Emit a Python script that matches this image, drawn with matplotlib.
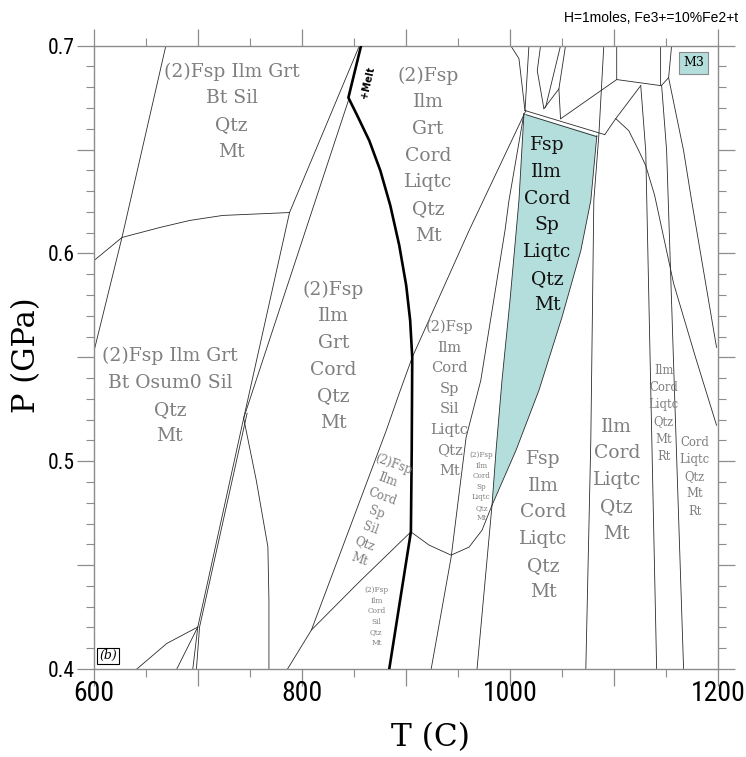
import matplotlib

matplotlib.use("Agg")
import matplotlib.pyplot as plt
from matplotlib.patches import Polygon
from matplotlib.ticker import FuncFormatter, MultipleLocator

# phase boundaries, T in C, P in GPa
melt_T = [856.8, 844.6, 853.2, 864.7, 875.3, 884.9, 893.5, 900.2, 904.0, 906.0, 905.5, 904.7, 883.9]
melt_P = [0.700, 0.675, 0.6663, 0.6543, 0.6399, 0.6231, 0.6039, 0.5846, 0.5678, 0.550, 0.505,
          0.466, 0.400]

a_T = [669.1, 626.9, 600.0]
a_P = [0.700, 0.6077, 0.553]
b_T = [600.0, 626.9, 663.3, 692.1, 723.7, 788.0]
b_P = [0.5966, 0.6077, 0.6125, 0.6159, 0.6183, 0.6197]
c_T = [855.2, 788.0, 743.9]
c_P = [0.700, 0.6197, 0.5207]
d_T = [844.6, 743.9]
d_P = [0.6736, 0.5207]
e1_T = [743.9, 699.8, 695.0]
e1_P = [0.5207, 0.4202, 0.400]
e2_T = [747.2, 701.5, 698.5]
e2_P = [0.5231, 0.4202, 0.400]
f1_T = [699.8, 670.0, 641.2]
f1_P = [0.4202, 0.4123, 0.400]
f2_T = [699.8, 679.6]
f2_P = [0.4202, 0.400]
g_T = [743.9, 756.0, 767.2, 768.2, 768.2]
g_P = [0.5207, 0.4909, 0.4588, 0.4332, 0.400]

l1_T = [1015.3, 960.7, 906.0, 893.5, 881.1, 809.1, 786.1]
l1_P = [0.6688, 0.6111, 0.550, 0.5327, 0.5149, 0.4188, 0.400]
h_T = [904.7, 855.2, 809.1]
h_P = [0.466, 0.442, 0.4188]
i_T = [904.7, 922.3, 943.4, 960.7, 973.1, 982.7]
i_P = [0.466, 0.4596, 0.4548, 0.4587, 0.4668, 0.4788]
l2_T = [1013.4, 999.0, 995.2, 971.9, 957.8, 943.4, 924.2]
l2_P = [0.6673, 0.6255, 0.6111, 0.5389, 0.5115, 0.4538, 0.400]

teal_left_T = [1013.4, 1008.6, 1000.0, 992.3, 986.6, 982.7, 968.3]
teal_left_P = [0.6673, 0.6255, 0.5774, 0.5389, 0.5053, 0.4788, 0.400]
teal_right_T = [1083.5, 1077.7, 1068.1, 1049.9, 1027.8, 1005.8, 982.7]
teal_right_P = [0.6567, 0.6255, 0.6014, 0.5692, 0.5341, 0.5053, 0.4788]
band_top_T = [1014.4, 1091.1]
band_top_P = [0.6688, 0.6572]
band_bot_T = [1015.3, 1083.5]
band_bot_P = [0.6668, 0.6562]

ra_T = [1090.2, 1085.4, 1080.6, 1077.7, 1072.9]
ra_P = [0.700, 0.6567, 0.6255, 0.5101, 0.400]
rb_T = [1125.7, 1130.5, 1141.0]
rb_P = [0.6808, 0.6495, 0.400]
rc_T = [1145.8, 1150.6, 1166.9]
rc_P = [0.6808, 0.6495, 0.400]
rd_T = [1152.5, 1166.9, 1174.6, 1198.6]
rd_P = [0.6846, 0.6495, 0.6255, 0.5548]
arc_T = [1101.7, 1114.2, 1123.8, 1130.5, 1139.1, 1157.3, 1178.4, 1198.6]
arc_P = [0.6649, 0.6591, 0.6495, 0.6423, 0.6279, 0.5856, 0.550, 0.5173]

box1_T = [1102.6, 1102.6, 1144.8, 1144.8]
box1_P = [0.700, 0.6837, 0.6808, 0.700]
box2_T = [1155.4, 1152.5, 1145.5]
box2_P = [0.700, 0.6846, 0.6808]
k1_T = [1125.7, 1101.7, 1091.1]
k1_P = [0.6808, 0.6649, 0.6572]
k2_T = [1102.6, 1048.9]
k2_P = [0.6837, 0.6649]

t1_T = [1000.7, 1008.6, 1014.4]
t1_P = [0.700, 0.6938, 0.6688]
t2_T = [1018.2, 1014.4]
t2_P = [0.700, 0.6688]
t3_T = [1029.4, 1026.2, 1032.6]
t3_P = [0.700, 0.688, 0.6697]
t4_T = [1048.6, 1034.2]
t4_P = [0.700, 0.6703]
t5_T = [1053.4, 1047.0, 1048.6]
t5_P = [0.700, 0.6792, 0.6648]
t6_T = [1047.0, 1032.6]
t6_P = [0.6792, 0.6697]

thin_lines = [
    (a_T, a_P), (b_T, b_P), (c_T, c_P), (d_T, d_P), (e1_T, e1_P), (e2_T, e2_P),
    (f1_T, f1_P), (f2_T, f2_P), (g_T, g_P), (l1_T, l1_P), (h_T, h_P), (i_T, i_P),
    (l2_T, l2_P), (teal_left_T, teal_left_P), (teal_right_T, teal_right_P),
    (band_top_T, band_top_P), (band_bot_T, band_bot_P), (ra_T, ra_P), (rb_T, rb_P),
    (rc_T, rc_P), (rd_T, rd_P), (arc_T, arc_P), (box1_T, box1_P), (box2_T, box2_P),
    (k1_T, k1_P), (k2_T, k2_P), (t1_T, t1_P), (t2_T, t2_P), (t3_T, t3_P),
    (t4_T, t4_P), (t5_T, t5_P), (t6_T, t6_P),
]

x_ticklabels = {600: "600", 800: "800", 1000: "1000", 1200: "1200"}

GRAY = "#7f7f7f"
TEAL = "#b4dedc"
SERIF = "DejaVu Serif"
NARROW = ["Liberation Sans Narrow", "Roboto Condensed", "DejaVu Sans"]

fig = plt.figure(figsize=(7.46, 7.57), dpi=100)
ax = fig.add_axes([94 / 746, 1 - 669 / 757, 624 / 746, 623.3 / 757])
ax.set_xlim(600, 1200)
ax.set_ylim(0.4, 0.7)

# teal field (Fsp Ilm Cord Sp Liqtc Qtz Mt)
teal_xy = list(zip(teal_left_T[:6], teal_left_P[:6])) + list(zip(teal_right_T[::-1], teal_right_P[::-1]))
ax.add_patch(Polygon(teal_xy, closed=True, facecolor=TEAL, edgecolor="none", zorder=1))

for xs, ys in thin_lines:
    ax.plot(xs, ys, color="#2b2b2b", linewidth=0.6, zorder=2)
ax.plot(melt_T, melt_P, color="black", linewidth=1.9, zorder=3, solid_joinstyle="round")

big = dict(ha="center", va="center", family=SERIF, fontsize=13.5, linespacing=1.62, color=GRAY)
ax.text(732.4, 0.6683, "(2)Fsp Ilm Grt\nBt Sil\nQtz\nMt", **big)
ax.text(921.3, 0.6471, "(2)Fsp\nIlm\nGrt\nCord\nLiqtc\nQtz\nMt", **big)
ax.text(672.9, 0.5313, "(2)Fsp Ilm Grt\nBt Osum0 Sil\nQtz\nMt", **big)
ax.text(830.2, 0.5505, "(2)Fsp\nIlm\nGrt\nCord\nQtz\nMt", **big)
ax.text(1031.7, 0.4690, "Fsp\nIlm\nCord\nLiqtc\nQtz\nMt", **big)
ax.text(1102.6, 0.4909, "Ilm\nCord\nLiqtc\nQtz\nMt", **big)
big["color"] = "#111111"
ax.text(1035.5, 0.6135, "Fsp\nIlm\nCord\nSp\nLiqtc\nQtz\nMt", **big)

ax.text(942.0, 0.5300, "(2)Fsp\nIlm\nCord\nSp\nSil\nLiqtc\nQtz\nMt", ha="center", va="center",
        family=SERIF, fontsize=10.5, linespacing=1.6, color=GRAY)
ax.text(871.5, 0.4755, "(2)Fsp\nIlm\nCord\nSp\nSil\nQtz\nMt", ha="center", va="center",
        family=SERIF, fontsize=8.5, linespacing=1.38, color=GRAY, rotation=-20, rotation_mode="anchor")
ax.text(1147.7, 0.5231, "Ilm\nCord\nLiqtc\nQtz\nMt\nRt", ha="center", va="center",
        family=SERIF, fontsize=8.4, linespacing=1.42, color=GRAY)
ax.text(1177.5, 0.4926, "Cord\nLiqtc\nQtz\nMt\nRt", ha="center", va="center",
        family=SERIF, fontsize=8.4, linespacing=1.42, color=GRAY)
ax.text(871.5, 0.4252, "(2)Fsp\nIlm\nCord\nSil\nQtz\nMt", ha="center", va="center",
        family=SERIF, fontsize=5.3, linespacing=1.42, color=GRAY)
ax.text(972.5, 0.4877, "(2)Fsp\nIlm\nCord\nSp\nLiqtc\nQtz\nMt", ha="center", va="center",
        family=SERIF, fontsize=5.2, linespacing=1.42, color=GRAY)

ax.text(862.8, 0.6822, "+Melt", ha="center", va="center", fontsize=7, fontweight="bold",
        rotation=77, color="black")
ax.text(613.4, 0.4063, "(b)", ha="center", va="center", family=SERIF, fontsize=9, style="italic",
        bbox=dict(boxstyle="square,pad=0.15", facecolor="white", edgecolor="black", linewidth=0.8))
ax.text(1176.5, 0.6918, "M3", ha="center", va="center", family=SERIF, fontsize=9,
        bbox=dict(boxstyle="square,pad=0.35", facecolor=TEAL, edgecolor="#8a8a8a", linewidth=0.8))

# axes styling
for side in ["left", "right", "top", "bottom"]:
    ax.spines[side].set_color("#8c8c8c")
    ax.spines[side].set_linewidth(1.0)
ax.xaxis.set_major_locator(MultipleLocator(100))
ax.xaxis.set_minor_locator(MultipleLocator(50))
ax.yaxis.set_major_locator(MultipleLocator(0.05))
ax.yaxis.set_minor_locator(MultipleLocator(0.01))
ax.xaxis.set_major_formatter(FuncFormatter(lambda v, pos: x_ticklabels.get(int(round(v)), "")))
ax.yaxis.set_major_formatter(
    FuncFormatter(lambda v, pos: f"{v:.1f}" if abs(v * 10 - round(v * 10)) < 1e-6 else ""))
ax.tick_params(which="both", direction="out", color="#8c8c8c", top=True, right=True)
ax.tick_params(which="major", length=12, width=0.9)
ax.tick_params(which="minor", length=6, width=0.8)
ax.tick_params(axis="x", labelsize=20, pad=-4)
ax.tick_params(axis="y", labelsize=15.5, pad=2)
for lab in ax.get_xticklabels() + ax.get_yticklabels():
    lab.set_family(NARROW)
    lab.set_stretch("condensed")
ax.get_xticklabels()[0].set_color("#e3322b")

fig.text(430 / 746, 1 - 738 / 757, "T (C)", ha="center", va="center", family=SERIF, fontsize=22.5)
fig.text(27 / 746, 1 - 355 / 757, "P (GPa)", ha="center", va="center", family=SERIF, fontsize=22,
         rotation=90)
fig.text(738 / 746, 1 - 18 / 757, "H=1moles, Fe3+=10%Fe2+t", ha="right", va="center",
         family="Liberation Sans", fontsize=10)

fig.savefig("out.png", dpi=100)
